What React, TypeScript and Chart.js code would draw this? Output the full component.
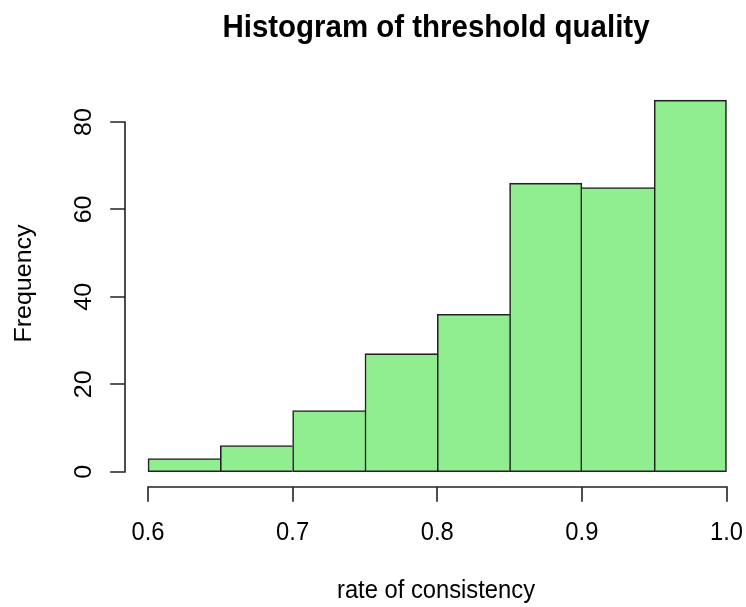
import React, { useEffect, useRef } from "react";
import { Chart, registerables } from "chart.js";

Chart.register(...registerables);

const TITLE = "Histogram of threshold quality";
const X_TITLE = "rate of consistency";
const Y_TITLE = "Frequency";

const binStarts = [0.6, 0.65, 0.7, 0.75, 0.8, 0.85, 0.9, 0.95];
const binWidth = 0.05;
const frequencies = [3, 6, 14, 27, 36, 66, 65, 85];
const xTicks = [0.6, 0.7, 0.8, 0.9, 1.0];
const yTicks = [0, 20, 40, 60, 80];

const FONT = '"Liberation Sans", Arial, Helvetica, sans-serif';
const SQUEEZE = 0.95;
const LINE = "#222222";

function drawText(ctx: CanvasRenderingContext2D, text: string, x: number, y: number, font: string, rotate = false) {
  ctx.save();
  ctx.translate(x, y);
  ctx.scale(SQUEEZE, 1);
  if (rotate) ctx.rotate(-Math.PI / 2);
  ctx.font = font;
  ctx.fillStyle = "#000";
  ctx.textAlign = "center";
  ctx.textBaseline = "alphabetic";
  ctx.fillText(text, 0, 0);
  ctx.restore();
}

const rAxesPlugin = {
  id: "rAxes",
  afterDraw(chart: any) {
    const ctx: CanvasRenderingContext2D = chart.ctx;
    const xs = chart.scales.x;
    const ys = chart.scales.y;
    const xMin = binStarts[0];
    const xMax = binStarts[binStarts.length - 1] + binWidth;
    const yMax = Math.max(...frequencies);
    // R-style 4% range extension decides where the detached axes sit
    const xAxisY = Math.round(ys.getPixelForValue(0 - 0.04 * yMax));
    const yAxisX = Math.round(xs.getPixelForValue(xMin - 0.04 * (xMax - xMin)));
    const tickLen = 14;

    ctx.save();
    ctx.strokeStyle = LINE;
    ctx.lineWidth = 1.6;
    ctx.lineCap = "square";

    // x axis
    const xt = xs.ticks.map((t: any) => t.value);
    const x0 = Math.round(xs.getPixelForValue(xt[0]));
    const x1 = Math.round(xs.getPixelForValue(xt[xt.length - 1]));
    ctx.beginPath();
    ctx.moveTo(x0, xAxisY);
    ctx.lineTo(x1, xAxisY);
    xt.forEach((v: number) => {
      const px = Math.round(xs.getPixelForValue(v));
      ctx.moveTo(px, xAxisY);
      ctx.lineTo(px, xAxisY + tickLen);
    });
    ctx.stroke();

    // y axis
    const yt = ys.ticks.map((t: any) => t.value);
    const y0 = Math.round(ys.getPixelForValue(yt[0]));
    const y1 = Math.round(ys.getPixelForValue(yt[yt.length - 1]));
    ctx.beginPath();
    ctx.moveTo(yAxisX, y0);
    ctx.lineTo(yAxisX, y1);
    yt.forEach((v: number) => {
      const py = Math.round(ys.getPixelForValue(v));
      ctx.moveTo(yAxisX, py);
      ctx.lineTo(yAxisX - tickLen, py);
    });
    ctx.stroke();
    ctx.restore();

    const labelFont = `25px ${FONT}`;
    xt.forEach((v: number) => {
      drawText(ctx, v.toFixed(1), xs.getPixelForValue(v), xAxisY + 53, labelFont);
    });
    yt.forEach((v: number) => {
      drawText(ctx, String(v), yAxisX - 34, ys.getPixelForValue(v), labelFont, true);
    });

    const cx = 436;
    drawText(ctx, TITLE, cx, 37, `bold 31px ${FONT}`);
    drawText(ctx, X_TITLE, cx, 598, labelFont);
    drawText(ctx, Y_TITLE, 31, 283.5, labelFont, true);
  },
};

export default function App() {
  const canvasRef = useRef<HTMLCanvasElement | null>(null);

  useEffect(() => {
    const canvas = canvasRef.current;
    if (!canvas) return;
    const last = frequencies.length - 1;
    const chart = new Chart(canvas, {
      type: "bar",
      data: {
        datasets: [
          {
            data: binStarts.map((s, i) => ({ x: s + binWidth / 2, y: frequencies[i] })),
            backgroundColor: "#90EE90",
            borderColor: LINE,
            borderWidth: (c: any) => {
              const i = c.dataIndex;
              const v = frequencies[i];
              const prev = i > 0 ? frequencies[i - 1] : -1;
              const next = i < last ? frequencies[i + 1] : -1;
              return {
                top: 1.6,
                bottom: 1.6,
                left: prev <= v ? 1.6 : 0,
                right: next < v ? 1.6 : 0,
              };
            },
            borderSkipped: false,
            barPercentage: 1,
            categoryPercentage: 1,
            clip: false,
          } as any,
        ],
      },
      options: {
        animation: false,
        responsive: false,
        devicePixelRatio: 1,
        events: [],
        layout: { padding: { left: 148, right: 19.5, top: 122, bottom: 135.3 } },
        plugins: {
          legend: { display: false },
          tooltip: { enabled: false },
          title: { display: false },
        },
        scales: {
          x: {
            type: "linear",
            display: false,
            offset: false,
            min: binStarts[0],
            max: binStarts[binStarts.length - 1] + binWidth,
            afterBuildTicks: (s: any) => {
              s.ticks = xTicks.map((v) => ({ value: v }));
            },
          },
          y: {
            type: "linear",
            display: false,
            min: yTicks[0],
            max: yTicks[yTicks.length - 1],
            afterBuildTicks: (s: any) => {
              s.ticks = yTicks.map((v) => ({ value: v }));
            },
          },
        },
      } as any,
      plugins: [rAxesPlugin],
    });
    return () => chart.destroy();
  }, []);

  return (
    <div style={{ position: "fixed", left: 0, top: 0, width: 746, height: 607, background: "#fff" }}>
      <canvas ref={canvasRef} width={746} height={607} style={{ width: 746, height: 607, display: "block" }} />
    </div>
  );
}
